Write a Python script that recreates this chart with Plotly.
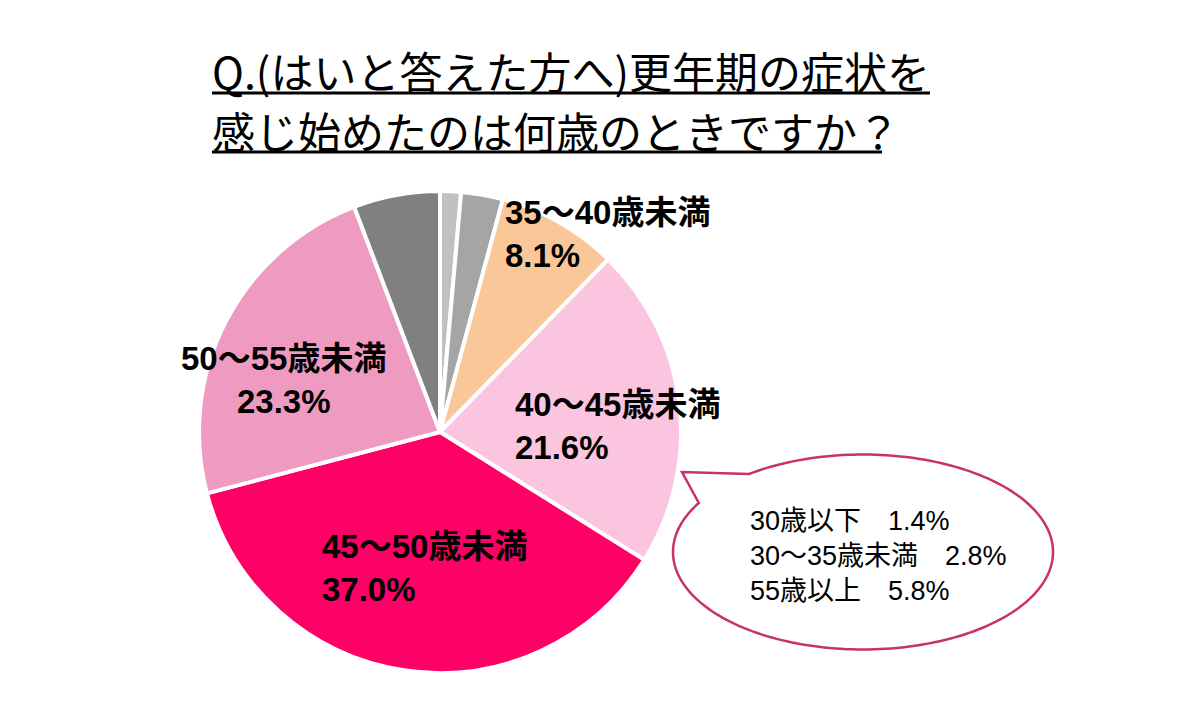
import numpy as np
import plotly.graph_objects as go

W, H = 1200, 713

# Data
labels = ["30歳以下", "30〜35歳未満", "35〜40歳未満", "40〜45歳未満",
          "45〜50歳未満", "50〜55歳未満", "55歳以上"]
values = [1.4, 2.8, 8.1, 21.6, 37.0, 23.3, 5.8]
colors = ["#C0C0C0", "#A5A5A5", "#FAC898", "#FBC5DF",
          "#FF0066", "#EF9BC1", "#808080"]
title_lines = ["Q.(はいと答えた方へ)更年期の症状を",
               "感じ始めたのは何歳のときですか？"]
bubble_items = ["30歳以下", "30〜35歳未満", "55歳以上"]

# label placement inside the pie (pixel coords): x, y, xanchor, align
label_pos = {
    "35〜40歳未満": (503, 234, "left", "left"),
    "40〜45歳未満": (513, 426, "left", "left"),
    "45〜50歳未満": (320, 568, "left", "left"),
    "50〜55歳未満": (283, 380, "center", "center"),
}


def px(x):
    return x / W


def py(y):
    return 1 - y / H


# pie geometry
cx, cy, r = 440, 432, 241

fig = go.Figure()
fig.add_trace(go.Pie(
    labels=labels,
    values=values,
    sort=False,
    direction="clockwise",
    rotation=0,
    marker=dict(colors=colors, line=dict(color="white", width=4)),
    textinfo="none",
    hovertemplate="%{label}: %{value:.1f}%<extra></extra>",
    domain=dict(x=[px(cx - r), px(cx + r)], y=[py(cy + r), py(cy - r)]),
    showlegend=False,
))

label_font = dict(family="Liberation Sans, Noto Sans CJK JP", size=33,
                  color="black", weight=700)
annotations = []
for lab, val in zip(labels, values):
    if lab in label_pos:
        x, y, xa, al = label_pos[lab]
        annotations.append(dict(
            x=px(x), y=py(y), xref="paper", yref="paper",
            text=f"{lab}<br>{val:.1f}%", showarrow=False,
            xanchor=xa, yanchor="middle", align=al, font=label_font))

# speech bubble
ecx, ecy, rx, ry = 863, 552, 190, 97.5
t = np.radians(np.linspace(233.1, 570.2, 200))
bx = ecx + rx * np.cos(t)
by = ecy + ry * np.sin(t)
tip = (682, 472)
pts = list(zip(bx, by)) + [tip]
path = "M " + " L ".join(f"{px(a):.5f},{py(b):.5f}" for a, b in pts) + " Z"

shapes = [dict(type="path", path=path, xref="paper", yref="paper",
               line=dict(color="#C8306E", width=2.5), fillcolor="white")]

bubble_text = "<br>".join(
    f"{lab}\u3000{values[labels.index(lab)]:.1f}%" for lab in bubble_items)
annotations.append(dict(
    x=px(748), y=py(556), xref="paper", yref="paper", text=bubble_text,
    showarrow=False, xanchor="left", yanchor="middle", align="left",
    font=dict(family="Liberation Sans, Noto Sans CJK JP", size=27,
              color="black")))

# title with underlines
title_y = [70, 130]
underline = [(212, 930, 93), (212, 882, 152)]
for line, y in zip(title_lines, title_y):
    annotations.append(dict(
        x=px(210), y=py(y), xref="paper", yref="paper", text=line,
        showarrow=False, xanchor="left", yanchor="middle",
        font=dict(family="Noto Sans CJK JP", size=43, color="black")))
for x0, x1, y in underline:
    shapes.append(dict(type="line", xref="paper", yref="paper",
                       x0=px(x0), x1=px(x1), y0=py(y), y1=py(y),
                       line=dict(color="black", width=3)))

fig.update_layout(
    width=W, height=H,
    margin=dict(l=0, r=0, t=0, b=0),
    paper_bgcolor="white", plot_bgcolor="white",
    annotations=annotations, shapes=shapes,
)

fig.write_html("out.html", config={"displayModeBar": False},
               post_script="document.body.style.margin='0px';")
